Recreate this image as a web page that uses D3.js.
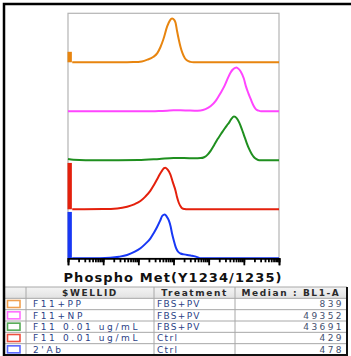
<!DOCTYPE html>
<html><head><meta charset="utf-8">
<script src="https://cdn.jsdelivr.net/npm/d3@7"></script>
<style>html,body{margin:0;padding:0;background:#fff;} svg{display:block;}</style>
</head><body>
<svg id="c" width="351" height="356"></svg>
<script>
// ---------- data ----------
const wellIds = ["F11+PP", "F11+NP", "F11 0.01 ug/mL", "F11 0.01 ug/mL", "2'Ab"];
const treatments = ["FBS+PV", "FBS+PV", "FBS+PV", "Ctrl", "Ctrl"];
const medians = [839, 49352, 43691, 429, 478];
const headers = ["$WELLID", "Treatment", "Median : BL1-A"];
const axisTitle = "Phospho Met(Y1234/1235)";
const decadeTicks = [1, 10, 100, 1000, 10000, 100000, 1000000];
// off-scale low bin height (% of mode)
const lowBinPct = [24, 0, 0, 106, 106];
// histograms: [log10 intensity, % of mode]
const histPP = [[0.12,0],[1.5,0],[1.86,0.5],[2.1,2],[2.26,6],[2.42,12],[2.54,21],[2.63,35],[2.71,52],[2.82,82],[2.9,96],[2.96,100],[3.02,97],[3.06,90],[3.1,72],[3.15,52],[3.2,35],[3.25,22],[3.32,10],[3.39,4],[3.48,1],[3.57,0],[6,0]];
const histNP = [[0,0],[2.4,0],[2.6,0.5],[2.82,1.5],[3.0,2.5],[3.2,2.2],[3.39,2],[3.6,1.5],[3.77,2],[3.91,5],[4.06,12],[4.2,24],[4.34,42],[4.45,58],[4.53,73],[4.62,88],[4.68,95],[4.79,100],[4.85,97],[4.91,91],[5.0,75],[5.06,57],[5.13,41],[5.2,27],[5.27,14],[5.34,5],[5.42,1.5],[5.49,0],[6,0]];
const hist001PV = [[0,3],[0.15,1],[0.5,0],[2.0,0.5],[2.6,3],[3.0,5],[3.3,5],[3.6,4.5],[3.77,5],[3.87,7],[3.97,13],[4.06,22],[4.15,34],[4.25,48],[4.35,60],[4.44,71],[4.52,80],[4.58,86],[4.65,95],[4.72,100],[4.8,96],[4.87,86],[4.94,72],[5.01,56],[5.08,40],[5.15,26],[5.22,15],[5.29,7],[5.36,2.5],[5.44,0],[6,0]];
const hist001Ctrl = [[0.12,0],[1.0,0.5],[1.4,2],[1.68,6],[1.9,12],[2.06,19],[2.2,29],[2.34,42],[2.44,55],[2.53,68],[2.61,80],[2.68,89],[2.73,94],[2.77,95],[2.84,90],[2.91,80],[2.98,62],[3.06,42],[3.1,28],[3.15,15],[3.2,7],[3.25,2],[3.32,0.5],[3.39,0],[6,0]];
const hist2Ab = [[0.12,0],[0.9,0],[1.2,1],[1.45,3.5],[1.68,7.5],[1.9,15],[2.06,23],[2.2,33],[2.34,45],[2.44,58],[2.53,71],[2.62,86],[2.68,97],[2.75,100],[2.81,95],[2.87,86],[2.92,72],[2.96,56],[3.01,40],[3.06,26],[3.12,16],[3.2,11],[3.3,9],[3.39,7.5],[3.5,6],[3.58,5],[3.68,2.5],[3.77,0],[6,0]];
const histograms = [histPP, histNP, hist001PV, hist001Ctrl, hist2Ab];

// ---------- styles ----------
const lineColors = ["#e8850f", "#ff45ff", "#1f8f1f", "#e4200c", "#1838f5"];
const swatchColors = ["#f0a050", "#ff70ff", "#55aa55", "#ee5040", "#5a68ff"];

const svg = d3.select("#c");
const plot = {l: 68, r: 279, t: 13.3, b: 258.3};
const x = d3.scaleLog().domain([1, 1e6]).range([plot.l, plot.r]);
const band = d3.scaleBand().domain(d3.range(histograms.length)).range([plot.t, plot.b]);
const bh = band.bandwidth();

// plot frame
svg.append("rect").attr("x", plot.l).attr("y", plot.t)
  .attr("width", plot.r - plot.l).attr("height", plot.b - plot.t)
  .attr("fill", "none").attr("stroke", "#b4b4b4").attr("stroke-width", 1.2);

histograms.forEach((h, i) => {
  const y0 = band(i) + bh;
  const y = d3.scaleLinear().domain([0, 112]).range([y0, band(i)]);
  const line = d3.line().x(d => x(Math.pow(10, d[0]))).y(d => y(d[1])).curve(d3.curveMonotoneX);
  if (lowBinPct[i] > 0) {
    svg.append("rect").attr("x", x(1) - 0.5)
      .attr("width", x(Math.pow(10, 0.11)) - x(1) + 0.5)
      .attr("y", y(lowBinPct[i])).attr("height", y0 - y(lowBinPct[i]))
      .attr("fill", lineColors[i]);
  }
  svg.append("path").attr("d", line(h)).attr("fill", "none")
    .attr("stroke", lineColors[i]).attr("stroke-width", 2).attr("stroke-linejoin", "round");
});

// axis
const gMinor = svg.append("g").attr("transform", `translate(0,${plot.b})`)
  .call(d3.axisBottom(x).tickValues(x.ticks()).tickSize(4).tickFormat(""));
const gMajor = svg.append("g").attr("transform", `translate(0,${plot.b})`)
  .call(d3.axisBottom(x).tickValues(decadeTicks).tickSize(7).tickFormat(""));
[gMinor, gMajor].forEach(g => {
  g.select(".domain").attr("stroke", "#000").attr("stroke-width", 1.5);
  g.selectAll(".tick line").attr("stroke", "#000").attr("stroke-width", 1.8);
});

svg.append("text").attr("x", (plot.l + plot.r) / 2 - 0.5).attr("y", 281.5)
  .attr("text-anchor", "middle").attr("font-family", "DejaVu Sans").attr("font-weight", "bold")
  .attr("font-size", 13).attr("letter-spacing", 1.1).attr("fill", "#111").text(axisTitle);

// table
const tbl = {l: 5, r: 347, t: 287, b: 355};
const cols = [5, 26, 154, 235, 347];
const rows = d3.scaleBand().domain(d3.range(wellIds.length + 1)).range([tbl.t, tbl.b]);
const rh = rows.bandwidth();
const defs = svg.append("defs");
const grad = defs.append("linearGradient").attr("id", "hg").attr("x1", 0).attr("x2", 0).attr("y1", 0).attr("y2", 1);
grad.append("stop").attr("offset", 0).attr("stop-color", "#f4f4f4");
grad.append("stop").attr("offset", 1).attr("stop-color", "#e2e2e2");
svg.append("rect").attr("x", tbl.l).attr("y", rows(0)).attr("width", tbl.r - tbl.l).attr("height", rh).attr("fill", "url(#hg)");

// grid
d3.range(wellIds.length + 1).forEach(r => {
  svg.append("line").attr("x1", tbl.l).attr("x2", tbl.r).attr("y1", rows(r)).attr("y2", rows(r))
    .attr("stroke", "#a8a8a8").attr("stroke-width", 1);
});
cols.slice(1, 4).forEach(c => {
  svg.append("line").attr("x1", c).attr("x2", c).attr("y1", tbl.t).attr("y2", tbl.b)
    .attr("stroke", "#a8a8a8").attr("stroke-width", 1);
});
svg.append("path").attr("d", `M${tbl.r},${tbl.t}V${tbl.b}H4`).attr("fill", "none")
  .attr("stroke", "#111").attr("stroke-width", 2);

// header
headers.forEach((t, k) => {
  svg.append("text").attr("x", (cols[k + 1] + cols[k + 2]) / 2).attr("y", rows(0) + rh / 2 + 3.2)
    .attr("text-anchor", "middle").attr("font-family", "DejaVu Sans").attr("font-weight", "bold")
    .attr("font-size", 9).attr("letter-spacing", 1.6).attr("fill", "#2a2a2a").text(t);
});

wellIds.forEach((w, i) => {
  const ry = rows(i + 1);
  svg.append("rect").attr("x", 7.5).attr("y", ry + rh / 2 - 3.5).attr("width", 12.5).attr("height", 7)
    .attr("fill", "#fff").attr("stroke", swatchColors[i]).attr("stroke-width", 1.6);
  const base = ry + rh / 2 + 3.2;
  svg.append("text").attr("x", 33).attr("y", base).attr("font-family", "DejaVu Sans")
    .attr("font-size", 9).attr("letter-spacing", 2.6).attr("fill", "#2b3f86").text(w);
  svg.append("text").attr("x", 157).attr("y", base).attr("font-family", "DejaVu Sans")
    .attr("font-size", 9).attr("letter-spacing", 1.3).attr("fill", "#2b3f86").text(treatments[i]);
  svg.append("text").attr("x", 344).attr("y", base).attr("text-anchor", "end").attr("font-family", "DejaVu Sans")
    .attr("font-size", 9).attr("letter-spacing", 2.4).attr("fill", "#44506e").text(medians[i]);
});

// outer frame
svg.append("path").attr("d", "M4,356V4H351").attr("fill", "none").attr("stroke", "#000").attr("stroke-width", 2.5);
</script>
</body></html>
